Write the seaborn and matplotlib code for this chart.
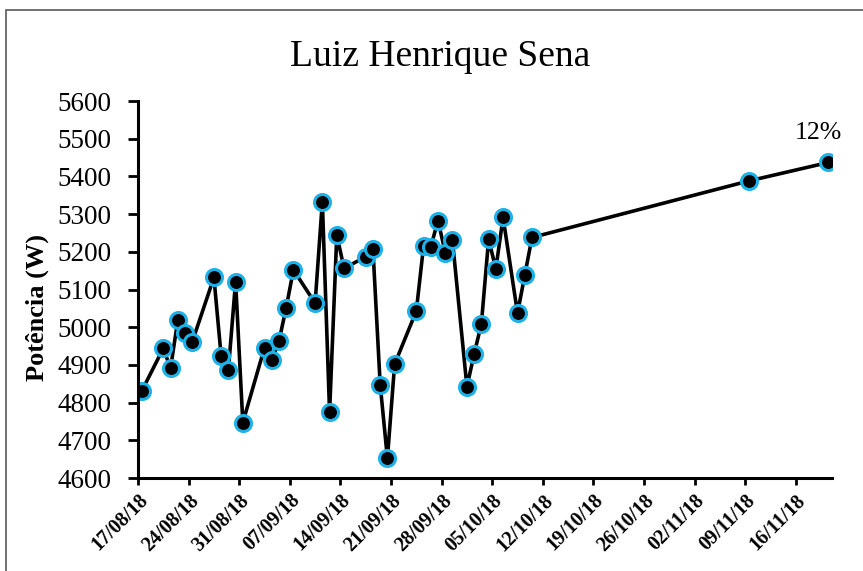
import matplotlib
matplotlib.use("Agg")
import matplotlib.pyplot as plt
from matplotlib.patches import Rectangle
import seaborn as sns
import pandas as pd

dates = ["17/08/18", "20/08/18", "21/08/18", "22/08/18", "23/08/18", "24/08/18",
         "27/08/18", "28/08/18", "29/08/18", "30/08/18", "31/08/18",
         "03/09/18", "04/09/18", "05/09/18", "06/09/18", "07/09/18",
         "10/09/18", "11/09/18", "12/09/18", "13/09/18", "14/09/18",
         "17/09/18", "18/09/18", "19/09/18", "20/09/18", "21/09/18",
         "24/09/18", "25/09/18", "26/09/18", "27/09/18", "28/09/18", "29/09/18",
         "01/10/18", "02/10/18", "03/10/18", "04/10/18", "05/10/18", "06/10/18",
         "08/10/18", "09/10/18", "10/10/18",
         "09/11/18", "20/11/18"]
power = [4830, 4944, 4891, 5018, 4984, 4961,
         5132, 4924, 4886, 5121, 4747,
         4946, 4912, 4963, 5052, 5152,
         5064, 5333, 4774, 5245, 5156,
         5187, 5207, 4848, 4652, 4902,
         5043, 5215, 5213, 5283, 5198, 5230,
         4842, 4929, 5009, 5233, 5155, 5291,
         5037, 5138, 5238,
         5388, 5437]
title = "Luiz Henrique Sena"
ylabel = "Potência (W)"
annotation = "12%"
y_ticks = [4600, 4700, 4800, 4900, 5000, 5100, 5200, 5300, 5400, 5500, 5600]
x_start, x_end = "17/08/18", "21/11/18"

sns.set_style("white")
plt.rcParams['font.family'] = ['Liberation Serif', 'DejaVu Serif']
plt.rcParams.update({"text.color": "black", "axes.labelcolor": "black",
                     "xtick.color": "black", "ytick.color": "black"})

df = pd.DataFrame({
    "date": pd.to_datetime(dates, format="%d/%m/%y") + pd.Timedelta(hours=12),
    "power": power,
})

fig = plt.figure(figsize=(8.63, 5.71), dpi=100)
ax = fig.add_axes([138/863, 1-478/571, (832-138)/863, (478-101)/571])

sns.lineplot(data=df, x="date", y="power", ax=ax, color="black", linewidth=2.6,
             marker="o", markersize=11.5, markerfacecolor="black",
             markeredgecolor="#1DB1E9", markeredgewidth=2.2)

ax.set_xlim(pd.to_datetime(x_start, format="%d/%m/%y"), pd.to_datetime(x_end, format="%d/%m/%y"))
ax.set_ylim(y_ticks[0], y_ticks[-1])
ax.set_yticks(y_ticks)
ax.set_yticklabels([str(v) for v in y_ticks], fontsize=19.5)

xt = pd.date_range(pd.to_datetime(x_start, format="%d/%m/%y"), periods=14, freq="7D")
ax.set_xticks(xt)
ax.set_xticklabels([d.strftime("%d/%m/%y") for d in xt], rotation=45, ha="right",
                   rotation_mode="anchor", fontsize=14.5, fontweight="bold")

ax.set_xlabel("")
ax.set_ylabel(ylabel, fontsize=19, fontweight="bold")
ax.yaxis.set_label_coords(-0.128, 0.452)

fig.text(440/863, 1-57/571, title, fontsize=27, ha="center", va="center")

for s in ["top", "right"]:
    ax.spines[s].set_visible(False)
for s in ["left", "bottom"]:
    ax.spines[s].set_linewidth(2.2)
    ax.spines[s].set_color("black")
ax.tick_params(axis="y", direction="out", length=7, width=2, left=True, pad=12)
ax.tick_params(axis="x", direction="out", length=5, width=2, bottom=True, pad=4)
ax.grid(False)

last = df.iloc[-1]
ax.annotate(annotation, xy=(last["date"], last["power"]), xytext=(-7, 13),
            textcoords="offset points", ha="center", va="bottom", fontsize=18.5)

fig.patches.append(Rectangle((6/863, -0.05), 1.0, 1-10/571+0.05, transform=fig.transFigure,
                             fill=False, edgecolor="#595959", linewidth=1.2))

fig.savefig("out.png", dpi=100)
